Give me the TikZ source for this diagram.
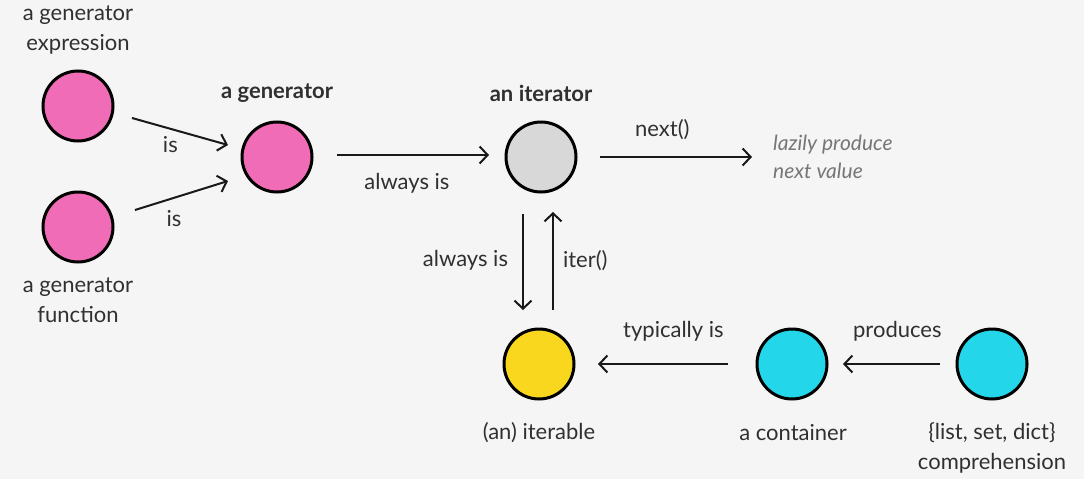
\documentclass[tikz,border=0pt]{standalone}
\usepackage{fontspec}
\setmainfont{Lato}
\usetikzlibrary{arrows.meta}
\definecolor{bgc}{HTML}{F6F5F6}
\definecolor{txt}{HTML}{303030}
\definecolor{pinkc}{HTML}{F06CB6}
\definecolor{grayc}{HTML}{D8D8D8}
\definecolor{yellowc}{HTML}{F8D71E}
\definecolor{cyanc}{HTML}{23D6EA}
\definecolor{notec}{HTML}{767676}
\tikzset{
  dot/.style={circle, draw=black, line width=3pt, minimum size=70pt, inner sep=0pt},
  lbl/.style={text=txt, font=\fontsize{22}{30}\selectfont, align=center, inner sep=0pt},
  blbl/.style={lbl, font=\fontsize{22}{30}\selectfont\bfseries},
  note/.style={text=notec, font=\fontsize{21}{28}\selectfont\itshape, align=left, inner sep=0pt, anchor=west},
  conn/.style={draw=black!90, line width=2pt, -{Straight Barb[length=8pt,width=17pt,line width=2pt]}}
}
\begin{document}
\begin{tikzpicture}[x=1pt,y=-1pt]
\fill[bgc] (0,0) rectangle (1084,479);
\useasboundingbox (0,0) rectangle (1084,479);
% nodes
\node[dot, fill=pinkc] (gexpr) at (78,106) {};
\node[dot, fill=pinkc] (gfunc) at (78,227) {};
\node[dot, fill=pinkc] (gen) at (277,157) {};
\node[dot, fill=grayc] (iter) at (541,157) {};
\node[dot, fill=yellowc] (itbl) at (539,364) {};
\node[dot, fill=cyanc] (cont) at (792,364) {};
\node[dot, fill=cyanc] (comp) at (992,364) {};
% texts
\node[lbl] (tgexpr) at (78,30) {a generator\\expression};
\node[lbl] (tgfunc) at (78,300) {a generator\\function};
\node[blbl] (tgen) at (277,93) {a generator};
\node[blbl] (titer) at (541,93) {an iterator};
\node[lbl] (titbl) at (539,433) {(an) iterable};
\node[lbl] (tcont) at (793,433) {a container};
\node[lbl] (tcomp) at (992,448) {\{list, set, dict\}\\comprehension};
\node[note] (lazy) at (773,157) {lazily produce\\next value};
% anchors for arrows
\coordinate (a1s) at (132,118); \coordinate (a1e) at (228,145);
\coordinate (a2s) at (135,210); \coordinate (a2e) at (228,181);
\coordinate (a3s) at (337,155); \coordinate (a3e) at (489,155);
\coordinate (a4s) at (600,157); \coordinate (a4e) at (752,157);
\coordinate (a5s) at (523,214); \coordinate (a5e) at (523,310);
\coordinate (a6s) at (553,310); \coordinate (a6e) at (553,212);
\coordinate (a7s) at (728,364); \coordinate (a7e) at (598,364);
\coordinate (a8s) at (940,364); \coordinate (a8e) at (843,364);
% connectors
\draw[conn] (a1s) -- (a1e) node[lbl, pos=0.4, below=7pt] {is};
\draw[conn] (a2s) -- (a2e) node[lbl, pos=0.42, below=12pt] {is};
\draw[conn] (a3s) -- (a3e) node[lbl, pos=0.46, below=17pt] {always is};
\draw[conn] (a4s) -- (a4e) node[lbl, pos=0.41, above=16pt] {next()};
\draw[conn] (a5s) -- (a5e) node[lbl, pos=0.48, left=14pt] {always is};
\draw[conn] (a6s) -- (a6e) node[lbl, pos=0.5, right=9pt] {iter()};
\draw[conn] (a7s) -- (a7e) node[lbl, pos=0.42, above=22pt] {typically is};
\draw[conn] (a8s) -- (a8e) node[lbl, pos=0.44, above=22pt] {produces};
\end{tikzpicture}
\end{document}
